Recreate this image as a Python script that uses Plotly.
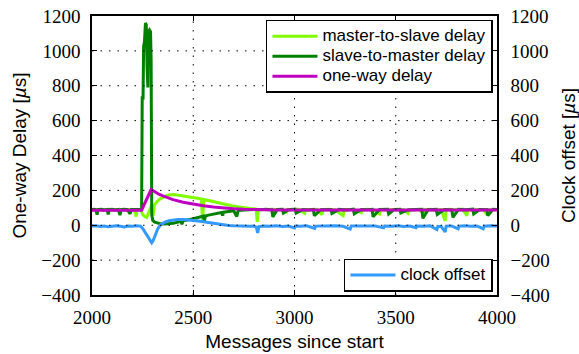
import plotly.graph_objects as go

# ---- measured series (message index, value in microseconds) ----
M2S_X = [2000, 2015, 2030, 2045, 2060, 2075, 2090, 2105, 2120, 2135, 2150, 2165, 2180, 2195, 2210,
         2218, 2222, 2235, 2242, 2250, 2260, 2270, 2280, 2288, 2296, 2302, 2308, 2320, 2335, 2350,
         2365, 2380, 2400, 2420, 2440, 2460, 2480, 2500, 2520, 2540, 2546, 2552, 2570, 2600, 2630,
         2660, 2690, 2720, 2750, 2780, 2810, 2816, 2822, 2840, 2865, 2890, 2900, 2905, 2930, 2960,
         2965, 2990, 3020, 3050, 3055, 3080, 3110, 3136, 3141, 3170, 3200, 3240, 3245, 3270, 3300,
         3330, 3335, 3360, 3390, 3420, 3425, 3450, 3480, 3510, 3540, 3560, 3565, 3590, 3615, 3640,
         3645, 3670, 3700, 3725, 3744, 3749, 3770, 3800, 3830, 3851, 3856, 3880, 3910, 3935, 3950,
         3955, 3975, 4000]
M2S_Y = [88, 90, 86, 91, 87, 89, 92, 86, 90, 88, 91, 87, 89, 92, 86,
         50, 88, 90, 88, 62, 50, 45, 68, 95, 120, 55, 115, 135, 150, 160,
         168, 173, 176, 174, 171, 168, 165, 160, 155, 150, 25, 148, 143, 135, 127,
         119, 112, 106, 100, 96, 93, 20, 92, 91, 89, 92, 70, 90, 88, 75,
         91, 89, 92, 68, 90, 88, 91, 60, 89, 92, 88, 55, 90, 91, 88,
         72, 90, 92, 89, 65, 91, 88, 90, 92, 89, 70, 90, 88, 91, 62,
         89, 92, 88, 90, 25, 89, 91, 88, 92, 55, 90, 88, 91, 89, 60,
         90, 88, 90]

S2M_X = [2000, 2010, 2020, 2025, 2030, 2045, 2060, 2075, 2080, 2085, 2100, 2115, 2130, 2138, 2144,
         2160, 2175, 2188, 2194, 2210, 2225, 2240, 2245, 2248, 2252, 2255, 2259, 2264, 2268, 2272,
         2276, 2279, 2284, 2289, 2292, 2295, 2300, 2310, 2325, 2340, 2360, 2380, 2400, 2425, 2440,
         2444, 2450, 2475, 2500, 2525, 2550, 2555, 2560, 2575, 2600, 2625, 2640, 2645, 2650, 2675,
         2700, 2715, 2722, 2750, 2775, 2800, 2830, 2860, 2888, 2893, 2915, 2940, 2945, 2970, 3003,
         3008, 3040, 3070, 3093, 3098, 3130, 3160, 3180, 3185, 3220, 3260, 3290, 3295, 3330, 3360,
         3383, 3388, 3420, 3460, 3465, 3490, 3520, 3525, 3560, 3600, 3629, 3634, 3660, 3700, 3705,
         3740, 3777, 3782, 3810, 3845, 3880, 3885, 3915, 3950, 3955, 3980, 4000]
S2M_Y = [90, 92, 89, 60, 90, 92, 88, 91, 62, 90, 92, 88, 91, 58, 90,
         92, 89, 65, 90, 91, 88, 90, 92, 740, 720, 1030, 1050, 1160, 1150, 900,
         790, 1110, 1120, 1110, 950, 60, 28, 18, 12, 8, 7, 9, 12, 18, 22,
         5, 25, 31, 38, 45, 52, 25, 53, 58, 65, 70, 73, 55, 75, 79,
         83, 50, 85, 88, 90, 91, 89, 92, 88, 48, 90, 91, 70, 89, 92,
         70, 90, 88, 91, 55, 89, 92, 90, 68, 91, 88, 92, 65, 90, 89,
         91, 48, 90, 92, 65, 89, 91, 70, 88, 90, 92, 40, 89, 91, 62,
         90, 88, 45, 91, 89, 92, 65, 90, 89, 55, 91, 90]

OW_X = [2000, 2100, 2200, 2245, 2292, 2310, 2330, 2350, 2375, 2400, 2450, 2500, 2550, 2600,
        2650, 2700, 2750, 2800, 2900, 3000, 3500, 4000]
OW_Y = [86, 86, 86, 86, 205, 191, 178, 168, 157, 147, 132, 121, 112, 105,
        99, 95, 92, 90, 88, 87, 87, 87]

CO_X = [2000, 2020, 2040, 2060, 2080, 2100, 2120, 2140, 2160, 2180, 2200, 2220, 2240, 2250,
        2262, 2275, 2288, 2295, 2302, 2312, 2325, 2340, 2360, 2380, 2400, 2425, 2450, 2475,
        2500, 2525, 2550, 2575, 2600, 2625, 2650, 2675, 2700, 2725, 2750, 2780, 2800, 2812,
        2818, 2824, 2850, 2880, 2910, 2940, 2970, 3000, 3005, 3030, 3060, 3100, 3105, 3140,
        3170, 3200, 3240, 3275, 3280, 3310, 3340, 3370, 3400, 3440, 3445, 3480, 3510, 3540,
        3570, 3600, 3605, 3640, 3670, 3703, 3708, 3725, 3744, 3749, 3775, 3808, 3813, 3840,
        3870, 3900, 3932, 3937, 3965, 4000]
CO_Y = [-5, -3, -7, -4, -8, -5, -3, -6, -10, -4, -6, -3, -5, -18,
        -40, -65, -90, -100, -88, -55, -20, 5, 18, 26, 30, 33, 33, 31,
        28, 24, 20, 15, 10, 5, 2, -1, -3, -5, -4, -6, -5, -12,
        -44, -8, -4, -6, -3, -7, -5, -15, -4, -6, -3, -18, -5, -4,
        -7, -3, -6, -22, -5, -4, -7, -3, -5, -15, -4, -6, -3, -7,
        -5, -14, -4, -6, -3, -25, -6, -8, -38, -5, -4, -20, -5, -3,
        -6, -4, -20, -5, -3, -5]

X_TICKS = [2000, 2500, 3000, 3500, 4000]
Y_TICKS = [-400, -200, 0, 200, 400, 600, 800, 1000, 1200]

SERIF = "Liberation Serif"
SANS = "Liberation Sans"


def entry(label):
    # legend text at 17px while rows keep a compact 20px pitch
    return f'<span style="font-size:17px">{label}</span>'


fig = go.Figure()
fig.add_trace(go.Scatter(x=M2S_X, y=M2S_Y, mode="lines", name=entry("master-to-slave delay"),
                         line=dict(color="#7FFF00", width=3), legend="legend"))
fig.add_trace(go.Scatter(x=S2M_X, y=S2M_Y, mode="lines", name=entry("slave-to-master delay"),
                         line=dict(color="#008000", width=3), legend="legend"))
fig.add_trace(go.Scatter(x=OW_X, y=OW_Y, mode="lines", name=entry("one-way delay"),
                         line=dict(color="#C000C0", width=3), legend="legend"))
fig.add_trace(go.Scatter(x=CO_X, y=CO_Y, mode="lines", name=entry("clock offset"), yaxis="y2",
                         line=dict(color="#3399FF", width=3), legend="legend2"))

# dotted grid drawn over the data, one line per inner tick
grid = dict(color="black", width=1, dash="1.5px,7px")
shapes = []
for v in X_TICKS[1:-1]:
    shapes.append(dict(type="line", xref="x", yref="paper", x0=v, x1=v, y0=0, y1=1,
                       line=grid, layer="above"))
for v in Y_TICKS[1:-1]:
    shapes.append(dict(type="line", xref="paper", yref="y", x0=0, x1=1, y0=v, y1=v,
                       line=grid, layer="above"))

title_font = dict(family=SANS, size=19, color="black")


def axis_style():
    return dict(showline=True, linecolor="black", linewidth=1.5, ticks="inside",
                ticklen=5, tickcolor="black", tickwidth=1, showgrid=False, zeroline=False,
                automargin=False, tickfont=dict(family=SERIF, size=19, color="black"))


fig.update_layout(
    width=579, height=354, autosize=False,
    margin=dict(l=92, r=82, t=16, b=59, autoexpand=False),
    paper_bgcolor="white", plot_bgcolor="white",
    shapes=shapes,
    xaxis=dict(range=[2000, 4000], tickvals=X_TICKS, mirror="ticks",
               title=dict(text="Messages since start", font=title_font, standoff=8),
               ticklabelstandoff=4, **axis_style()),
    yaxis=dict(range=[-400, 1200], tickvals=Y_TICKS, mirror="ticks",
               title=dict(text="One-way Delay [<i>µ</i>s]", font=title_font, standoff=10),
               ticklabelstandoff=6, **axis_style()),
    yaxis2=dict(range=[-400, 1200], tickvals=Y_TICKS, overlaying="y", side="right",
                title=dict(text="Clock offset [<i>µ</i>s]", font=title_font, standoff=13),
                ticklabelstandoff=8, **axis_style()),
    legend=dict(x=0.99, y=0.986, xanchor="right", yanchor="top", bgcolor="white",
                bordercolor="black", borderwidth=1.5, itemwidth=45,
                font=dict(family=SANS, size=13, color="black"), tracegroupgap=0),
    legend2=dict(x=0.99, y=0.012, xanchor="right", yanchor="bottom", bgcolor="white",
                 bordercolor="black", borderwidth=1.5, itemwidth=45,
                 font=dict(family=SANS, size=13, color="black")),
)

fig.write_html("out.html")
